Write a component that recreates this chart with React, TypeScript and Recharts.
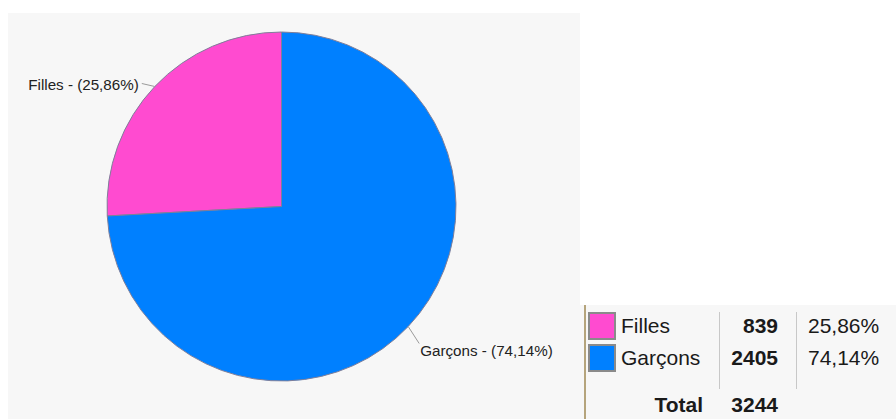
import { PieChart, Pie, Cell } from 'recharts';

const categories = ['Filles', 'Garçons'];
const counts = [839, 2405];
const COLORS = ['#ff4bd0', '#0080ff'];

const total = counts.reduce((a, b) => a + b, 0);
const data = categories.map((name, i) => ({ name, value: counts[i] }));

const FONT = "Arial, 'Liberation Sans', sans-serif";
const RAD = Math.PI / 180;

const fmtPct = (v: number) => (v * 100).toFixed(2).replace('.', ',') + '%';

// eslint-disable-next-line @typescript-eslint/no-explicit-any
function renderLabel(props: any) {
  const { cx, cy, midAngle, outerRadius, name, percent } = props;
  const x0 = cx + outerRadius * Math.cos(-midAngle * RAD);
  const y0 = cy + outerRadius * Math.sin(-midAngle * RAD);
  const left = x0 < cx;
  const x1 = left ? x0 - 13 : x0 + 11;
  const y1 = left ? y0 - 3 : y0 + 17;
  const tx = left ? x1 - 3 : x1 + 1;
  const ty = left ? y1 + 1 : y1 + 7;
  return (
    <g>
      <polyline points={`${x0},${y0} ${x1},${y1}`} stroke="#9a9a9a" strokeWidth={1} fill="none" />
      <text
        x={tx}
        y={ty}
        textAnchor={left ? 'end' : 'start'}
        dominantBaseline="central"
        fill="#222"
        fontSize={15.2}
        fontFamily={FONT}
      >
        {`${name} - (${fmtPct(percent)})`}
      </text>
    </g>
  );
}

function LegendTable() {
  const rowBase = [333, 365];
  return (
    <svg width={316} height={114} style={{ position: 'absolute', left: 580, top: 305 }}>
      <rect x={0} y={0} width={316} height={114} fill="#f7f7f7" />
      <rect x={4} y={0} width={2} height={114} fill="#b5a47c" />
      <line x1={139.5} y1={7} x2={139.5} y2={84} stroke="#c8c8c8" strokeWidth={1} />
      <line x1={216.5} y1={7} x2={216.5} y2={84} stroke="#c8c8c8" strokeWidth={1} />
      {categories.map((name, i) => {
        const by = rowBase[i] - 305;
        return (
          <g key={name} fontFamily={FONT} fontSize={21} fill="#1a1a1a">
            <rect x={9} y={by - 20} width={26} height={26} fill={COLORS[i]} stroke="#8a8a8a" strokeWidth={2} />
            <text x={41} y={by}>{name}</text>
            <text x={198} y={by} textAnchor="end" fontWeight="bold">{counts[i]}</text>
            <text x={228} y={by}>{fmtPct(counts[i] / total)}</text>
          </g>
        );
      })}
      <g fontFamily={FONT} fontSize={21} fill="#1a1a1a" fontWeight="bold">
        <text x={123} y={412 - 305} textAnchor="end">Total</text>
        <text x={198} y={412 - 305} textAnchor="end">{total}</text>
      </g>
    </svg>
  );
}

export default function App() {
  return (
    <div style={{ position: 'absolute', left: 0, top: 0, width: 896, height: 419, background: '#fff', overflow: 'hidden' }}>
      <div style={{ position: 'absolute', left: 8, top: 13, width: 572, height: 406, background: '#f7f7f7' }}>
        <PieChart width={572} height={406} margin={{ top: 0, right: 0, bottom: 0, left: 0 }}>
          <Pie
            data={data}
            dataKey="value"
            nameKey="name"
            cx={273.5}
            cy={193.5}
            outerRadius={174.5}
            startAngle={90}
            endAngle={450}
            stroke="#7f7f9a"
            strokeWidth={1}
            label={renderLabel}
            labelLine={false}
            isAnimationActive={false}
          >
            {data.map((entry, i) => (
              <Cell key={entry.name} fill={COLORS[i]} />
            ))}
          </Pie>
        </PieChart>
      </div>
      <LegendTable />
    </div>
  );
}
